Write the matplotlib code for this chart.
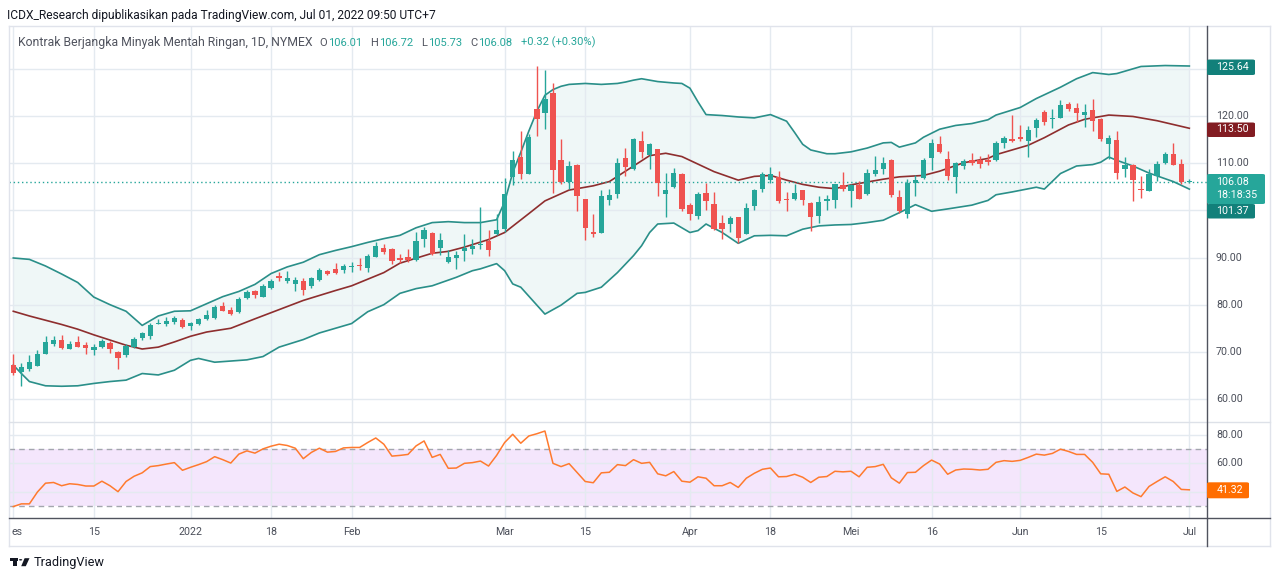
import numpy as np
import matplotlib
matplotlib.use('Agg')
import matplotlib.pyplot as plt
from matplotlib.patches import FancyBboxPatch, Polygon, Circle, Rectangle
from matplotlib.lines import Line2D
from matplotlib.transforms import blended_transform_factory as btf

plt.rcParams['font.family'] = ['Roboto', 'DejaVu Sans']

# ---------------- data (daily bars, 1 Dec 2021 .. 1 Jul 2022) ----------------
opens = [
    67.19, 65.64, 66.35, 66.98, 69.64, 71.75, 72.59, 70.70, 72.17, 71.40,
    70.35, 71.05, 71.96, 69.99, 69.29, 71.05, 73.01, 73.36, 75.89, 75.89,
    76.38, 76.80, 75.54, 75.89, 76.87, 77.16, 79.72, 78.87, 78.37, 81.35,
    82.84, 81.70, 83.55, 86.10, 85.11, 84.40, 85.04, 84.04, 85.25, 87.16,
    87.59, 87.38, 88.01, 88.44, 87.80, 90.21, 92.06, 91.84, 89.93, 90.14,
    89.57, 93.83, 95.18, 92.06, 89.01, 90.00, 91.28, 91.70, 92.55, 93.48,
    95.04, 96.01, 107.08, 111.38, 107.79, 121.40, 120.69, 124.92, 110.68, 106.02,
    109.55, 102.36, 95.44, 95.16, 102.21, 103.41, 111.03, 108.70, 114.63, 111.73,
    112.93, 103.41, 105.04, 107.64, 101.23, 98.83, 103.77, 101.30, 97.28, 97.07,
    98.55, 94.95, 100.95, 104.47, 106.45, 107.15, 102.50, 102.36, 104.39, 101.65,
    98.84, 101.93, 102.14, 105.44, 104.04, 105.30, 103.54, 107.61, 108.67, 110.77,
    102.84, 99.12, 105.72, 106.84, 111.05, 114.07, 110.91, 107.05, 109.30, 110.70,
    110.77, 110.77, 110.77, 114.21, 115.12, 115.54, 114.77, 117.44, 120.95, 119.33,
    119.68, 122.49, 121.65, 120.25, 121.23, 119.33, 114.07, 114.91, 108.81, 109.65,
    104.60, 104.04, 107.26, 110.07, 111.96, 109.86, 106.01]
highs = [
    69.64, 67.54, 69.43, 70.35, 73.29, 73.29, 73.50, 72.24, 73.36, 72.17,
    71.75, 72.80, 72.24, 70.14, 71.75, 73.22, 74.21, 76.17, 77.01, 77.36,
    77.57, 77.15, 76.38, 77.15, 78.77, 79.93, 80.50, 79.43, 81.56, 83.19,
    83.19, 84.40, 85.46, 86.88, 87.16, 85.82, 85.74, 85.96, 87.73, 87.45,
    88.79, 88.65, 89.15, 89.86, 90.78, 93.26, 92.91, 92.00, 90.78, 91.84,
    95.39, 96.45, 95.39, 95.18, 91.49, 91.28, 95.04, 93.97, 100.70, 95.74,
    99.29, 106.94, 112.58, 116.81, 116.11, 130.70, 129.65, 126.90, 115.05, 110.47,
    109.76, 102.50, 99.18, 104.26, 104.61, 111.17, 113.29, 115.40, 116.81, 114.34,
    113.00, 107.86, 108.91, 107.86, 101.65, 103.91, 105.74, 103.98, 98.97, 98.83,
    98.60, 101.51, 104.61, 108.14, 109.27, 108.35, 103.98, 105.53, 104.40, 101.70,
    103.05, 103.19, 105.65, 108.10, 105.65, 106.14, 108.81, 111.47, 111.26, 110.80,
    104.25, 106.70, 107.54, 111.05, 115.12, 115.68, 112.67, 110.21, 110.91, 112.18,
    111.47, 111.96, 114.77, 115.68, 120.18, 118.07, 117.79, 119.68, 121.23, 121.44,
    123.40, 122.98, 122.84, 122.49, 123.68, 119.68, 115.96, 116.88, 111.26, 109.86,
    107.26, 108.81, 110.56, 112.46, 114.28, 110.91, 106.72]
lows = [
    65.08, 62.84, 65.92, 66.98, 69.64, 71.19, 70.56, 70.56, 70.98, 69.64,
    69.43, 70.91, 69.85, 66.35, 68.80, 70.91, 72.45, 72.66, 75.89, 75.47,
    75.96, 75.12, 74.56, 75.75, 76.66, 76.95, 78.58, 77.87, 78.23, 81.21,
    81.49, 81.56, 83.33, 85.11, 84.61, 82.98, 82.13, 83.62, 85.11, 86.31,
    86.52, 86.74, 86.88, 87.45, 87.02, 90.07, 90.78, 88.65, 88.79, 89.15,
    89.22, 92.20, 90.43, 90.57, 88.87, 87.59, 89.36, 90.78, 91.70, 90.28,
    94.82, 95.44, 105.32, 106.73, 107.64, 115.75, 117.17, 103.77, 105.53, 104.47,
    99.89, 93.75, 94.25, 95.16, 101.09, 102.71, 107.29, 108.56, 111.17, 108.70,
    103.06, 98.69, 104.82, 99.89, 97.98, 98.12, 100.03, 95.87, 93.89, 95.44,
    93.05, 94.95, 100.03, 103.91, 105.74, 101.65, 99.96, 102.21, 101.09, 95.61,
    97.23, 100.04, 100.39, 104.04, 100.74, 102.35, 103.19, 107.19, 107.75, 102.84,
    99.33, 98.42, 103.05, 106.56, 108.46, 112.18, 106.35, 103.75, 108.81, 109.65,
    108.95, 109.51, 110.56, 113.16, 114.42, 114.77, 111.40, 115.47, 118.14, 117.37,
    119.47, 121.09, 118.63, 117.72, 116.88, 114.77, 110.91, 106.70, 107.05, 101.93,
    102.63, 104.04, 106.14, 109.86, 109.51, 105.65, 105.73]
closes = [
    65.43, 66.70, 67.75, 69.64, 72.10, 72.59, 70.91, 71.75, 71.12, 70.77,
    70.98, 72.31, 70.70, 68.59, 71.26, 72.80, 73.92, 75.75, 76.17, 76.59,
    77.08, 75.19, 76.17, 77.01, 77.85, 79.57, 78.72, 78.09, 81.21, 82.62,
    82.13, 83.90, 85.11, 85.60, 85.67, 85.32, 83.19, 85.67, 87.45, 86.52,
    86.74, 88.23, 88.23, 88.16, 90.35, 92.48, 91.13, 89.29, 89.50, 89.57,
    93.40, 95.74, 90.64, 93.76, 90.07, 90.43, 91.99, 92.34, 92.91, 91.49,
    95.89, 103.41, 110.61, 107.79, 115.61, 119.28, 123.65, 108.56, 106.02, 109.41,
    103.06, 96.36, 95.02, 103.06, 103.20, 109.97, 109.20, 115.05, 112.37, 113.99,
    105.88, 104.26, 107.86, 100.24, 99.18, 103.41, 102.00, 96.01, 96.01, 98.34,
    94.10, 100.59, 104.26, 107.64, 107.64, 102.00, 102.21, 103.77, 102.14, 98.63,
    101.79, 102.35, 105.51, 104.46, 105.44, 102.49, 107.96, 108.46, 110.07, 103.19,
    99.82, 105.86, 106.35, 110.70, 114.28, 112.46, 107.26, 110.07, 110.56, 110.07,
    109.86, 110.35, 114.28, 115.33, 114.70, 115.12, 117.09, 119.12, 118.63, 119.61,
    122.28, 121.58, 120.74, 120.95, 118.98, 115.12, 115.26, 107.96, 109.65, 106.35,
    104.25, 107.75, 109.86, 111.96, 109.65, 106.00, 106.08]

# Bollinger bands (bar index, value)
bb_upper_idx = [0, 2, 4, 6, 8, 10, 12, 14, 16, 18, 20, 22, 24, 26, 28, 30, 32, 34, 36, 38,
                40, 42, 44, 46, 48, 50, 52, 54, 56, 58, 60, 61, 62, 63, 64, 65, 66, 67, 68, 69,
                71, 73, 75, 76, 77, 78, 80, 82, 83, 84, 85, 86, 88, 90, 92, 94, 96, 97, 98, 99,
                101, 102, 104, 106, 108, 109, 110, 112, 113, 115, 117, 119, 121, 122, 125, 127,
                130, 132, 134, 136, 137, 140, 143, 146]
bb_upper = [89.9, 89.6, 88.2, 86.5, 84.7, 81.6, 80.0, 78.6, 75.6, 77.6, 78.6, 78.7, 80.2, 81.7,
            82.8, 84.3, 86.6, 88.0, 89.0, 90.6, 91.5, 92.3, 93.2, 94.0, 94.7, 96.3, 97.4, 97.6,
            97.4, 97.4, 98.0, 101.8, 108.0, 112.3, 116.8, 121.0, 124.4, 125.6, 126.3, 126.7,
            126.9, 126.7, 126.9, 127.2, 127.6, 127.9, 127.3, 127.0, 126.9, 125.9, 123.0, 120.3,
            120.1, 119.8, 119.6, 120.3, 118.9, 116.5, 114.0, 112.8, 112.0, 112.0, 112.4, 113.2,
            114.3, 114.4, 113.4, 114.3, 115.5, 117.2, 118.0, 118.4, 119.2, 120.2, 121.8, 123.7,
            126.1, 127.9, 129.2, 128.8, 129.0, 130.5, 130.7, 130.6]
bb_mid_idx = [0, 2, 4, 6, 8, 10, 12, 14, 16, 18, 20, 22, 24, 27, 30, 32, 36, 40, 42, 44,
              46, 48, 52, 54, 56, 59, 61, 64, 66, 69, 72, 74, 77, 79, 81, 83, 84, 87, 90, 92,
              94, 96, 98, 100, 102, 104, 108, 110, 113, 115, 118, 121, 122, 126, 128, 131, 133,
              135, 136, 139, 142, 146]
bb_mid = [78.6, 77.6, 76.7, 75.8, 74.8, 73.6, 72.5, 71.4, 70.6, 71.0, 72.1, 73.3, 74.2, 75.0,
          77.0, 78.3, 80.9, 83.0, 84.0, 85.4, 86.8, 88.8, 90.9, 91.3, 92.2, 93.8, 95.3, 99.3,
          102.0, 104.3, 105.2, 106.1, 109.4, 111.6, 112.1, 111.4, 110.6, 108.2, 106.4, 107.2,
          107.4, 106.4, 105.5, 104.9, 104.6, 105.4, 106.6, 107.1, 107.4, 108.3, 110.1, 111.0,
          111.8, 113.8, 115.4, 118.1, 119.3, 119.9, 120.2, 119.9, 119.0, 117.4]
bb_lower_idx = [0, 1, 2, 4, 6, 8, 10, 12, 14, 16, 18, 20, 22, 23, 25, 29, 31, 33, 36, 38,
                40, 42, 44, 46, 48, 50, 52, 55, 57, 58, 60, 61, 62, 63, 66, 68, 70, 71, 73, 75,
                77, 78, 79, 80, 82, 84, 85, 86, 88, 90, 92, 94, 96, 98, 100, 102, 104, 106, 108,
                110, 112, 114, 116, 119, 121, 122, 124, 127, 128, 130, 132, 134, 135, 136, 137,
                139, 141, 142, 144, 146]
bb_lower = [67.2, 65.4, 63.7, 62.8, 62.7, 62.8, 63.3, 63.7, 64.0, 65.4, 65.1, 66.1, 68.2, 68.6,
            67.8, 68.3, 69.0, 71.0, 72.6, 74.0, 75.0, 76.0, 78.5, 80.0, 82.4, 83.4, 84.0, 85.8,
            87.2, 87.6, 88.7, 87.2, 84.4, 83.7, 78.0, 79.9, 82.4, 82.6, 83.7, 86.8, 90.4, 92.5,
            95.3, 97.1, 97.3, 95.3, 95.7, 97.1, 95.3, 93.0, 94.6, 94.7, 94.6, 96.0, 96.7, 96.9,
            97.0, 97.4, 97.9, 99.5, 101.2, 99.8, 100.3, 101.1, 102.1, 103.3, 103.9, 104.9, 104.5,
            107.8, 109.4, 109.7, 110.2, 111.3, 110.6, 109.4, 107.9, 107.3, 106.1, 104.5]

rsi = [
    29.5, 31.4, 31.4, 39.8, 46.0, 46.5, 44.2, 45.6, 45.1, 44.0,
    44.0, 47.4, 44.2, 40.0, 47.2, 50.9, 53.3, 57.7, 58.4, 59.5,
    60.5, 55.1, 57.2, 59.1, 61.2, 64.7, 62.6, 60.2, 66.5, 68.8,
    67.2, 70.2, 72.1, 73.5, 72.6, 70.7, 63.3, 67.7, 70.7, 67.9,
    68.4, 70.9, 71.2, 71.2, 74.7, 77.9, 73.5, 65.1, 65.6, 66.3,
    72.3, 75.8, 64.2, 66.3, 56.5, 56.7, 60.0, 60.5, 61.6, 58.1,
    65.6, 74.7, 80.5, 74.2, 79.3, 80.9, 82.8, 60.0, 57.7, 59.8,
    53.5, 47.2, 46.3, 53.3, 53.7, 59.1, 58.4, 62.6, 60.0, 60.7,
    52.6, 51.2, 54.2, 47.4, 46.7, 50.5, 49.5, 44.2, 44.2, 46.5,
    43.0, 49.5, 53.0, 55.8, 56.7, 50.5, 50.7, 52.3, 50.2, 46.5,
    50.2, 50.7, 54.4, 54.0, 54.4, 50.5, 57.2, 57.7, 59.3, 49.8,
    46.0, 53.5, 53.7, 58.4, 62.3, 59.5, 52.3, 55.3, 56.0, 55.8,
    55.3, 55.8, 60.7, 61.9, 61.4, 62.1, 64.2, 66.5, 65.8, 67.0,
    70.0, 68.4, 66.3, 66.3, 60.7, 52.6, 52.3, 40.2, 43.3, 39.1,
    36.5, 43.7, 47.2, 50.5, 47.2, 41.6, 41.32]

tick_idx = [10, 22, 32, 42, 61, 71, 84, 94, 104, 114, 125, 135, 146]
tick_lbl = ['15', '2022', '18', 'Feb', 'Mar', '15', 'Apr', '18', 'Mei', '16', 'Jun', '15', 'Jul']
price_ticks = [120, 110, 90, 80, 70, 60]
grid_prices = [60, 70, 80, 90, 100, 110, 120, 130]
rsi_ticks = [80, 60]
last_labels = {'upper': '125.64', 'mid': '113.50', 'close': '106.08', 'timer': '18:18:35',
               'lower': '101.37', 'rsi': '41.32'}
ohlc_legend = [('O', '106.01'), ('H', '106.72'), ('L', '105.73'), ('C', '106.08'),
               ('', '+0.32 (+0.30%)')]

# ---------------- layout ----------------
W, H = 1280, 581
fig = plt.figure(figsize=(W / 100, H / 100), dpi=100)
fig.patch.set_facecolor('white')
renderer = fig.canvas.get_renderer()


def fx(x):
    return x / W


def fy(y):
    return 1 - y / H


def rect(x0, y0, x1, y1):
    return [fx(x0), fy(y1), (x1 - x0) / W, (y1 - y0) / H]


def textwidth(s, fs):
    if not s:
        return 0.0
    t = fig.text(0, 0, s, fontsize=fs)
    w = t.get_window_extent(renderer=renderer).width
    t.remove()
    return w


def fitsize(s, width):
    return 10 * width / textwidth(s, 10)


def fline(x0, y0, x1, y1, color, lw=1.0, z=5):
    fig.add_artist(Line2D([fx(x0), fx(x1)], [fy(y0), fy(y1)], transform=fig.transFigure,
                          color=color, lw=lw, zorder=z))


X0, X1 = 9.3, 1206.7
Y0, YS, Y1 = 26.0, 421.7, 518.3
bar_px0, bar_dx = 13.3, 8.055
ppd = 4.7167   # pixels per dollar
rpu = 1.417    # pixels per RSI unit

ax = fig.add_axes(rect(X0, Y0, X1, YS))
ax2 = fig.add_axes(rect(X0, YS, X1, Y1))
xl = ((X0 - bar_px0) / bar_dx, (X1 - bar_px0) / bar_dx)
ax.set_ylim(120 - (YS - 116) / ppd, 120 + (116 - Y0) / ppd)
ax2.set_ylim(80 - (Y1 - 435) / rpu, 80 + (435 - YS) / rpu)
for a in (ax, ax2):
    a.set_xlim(*xl)
    a.axis('off')

GRID = '#e4eaf0'
UP, DN = '#26a69a', '#ef5350'
BAND = '#2a8f89'
MID = '#8e2e2e'

# grid
for p in grid_prices:
    ax.axhline(p, color=GRID, lw=1, zorder=0.5)
for i in [0] + tick_idx:
    ax.axvline(i, color=GRID, lw=1, zorder=0.5)
    ax2.axvline(i, color=GRID, lw=1, zorder=0.6)

# Bollinger fill & lines
ux, uv = np.array(bb_upper_idx), np.array(bb_upper)
lx, lv = np.array(bb_lower_idx), np.array(bb_lower)
ax.fill(np.r_[ux, lx[::-1]], np.r_[uv, lv[::-1]], color='#eff7f7', lw=0, zorder=0.4)
ax.plot(ux, uv, color=BAND, lw=1.2, zorder=2)
ax.plot(lx, lv, color=BAND, lw=1.2, zorder=2)
ax.plot(bb_mid_idx, bb_mid, color=MID, lw=1.2, zorder=2)

# price line
ax.axhline(closes[-1], color=UP, lw=1, ls=(0, (1, 2)), zorder=2.5)

# candles
O, Hh, L, C = map(np.array, (opens, highs, lows, closes))
x = np.arange(len(O))
cols = np.where(C >= O, UP, DN)
ax.vlines(x, L, Hh, colors=cols, lw=1.0, zorder=3)
bot = np.minimum(O, C)
hgt = np.maximum(np.abs(C - O), 0.25)
ax.bar(x, hgt, bottom=bot, width=0.66, color=cols, lw=0, zorder=4)

# RSI pane
ax2.axhspan(30, 70, color='#f4e6fc', lw=0, zorder=0.3)
for r in (80, 60, 40):
    ax2.axhline(r, color=GRID, lw=1, zorder=0.6)
for r in (70, 30):
    ax2.axhline(r, color='#a3a6ae', lw=1, ls=(0, (4, 3)), zorder=1)
ax2.plot(x, rsi, color='#ff7a2e', lw=1.1, zorder=3)

# frame lines
FR = '#e0e3eb'
fline(X0, Y0, 1270, Y0, FR)
fline(X0, 545.5, 1270, 545.5, FR)
fline(X0, Y0, X0, 545.5, FR)
fline(1270, Y0, 1270, 545.5, FR)
fline(X0, YS, 1270, YS, '#dde1e8')
fline(X0, Y1, 1270, Y1, '#50535e')
fline(X1, Y0, X1, 545.5, '#50535e')

# ---------------- texts ----------------
TXT = '#131722'
AX_TXT = '#4a4e59'
LEG_GREY = '#50535e'
hdr = 'ICDX_Research dipublikasikan pada TradingView.com, Jul 01, 2022 09:50 UTC+7'
fs_hdr = fitsize(hdr, 431.5)
fig.text(fx(7.3), fy(15.5), hdr, fontsize=fs_hdr, color=TXT, va='center', ha='left')

name = 'Kontrak Berjangka Minyak Mentah Ringan, 1D, NYMEX'
fs_leg = fitsize(name, 295)
LEG_Y = 42.7
fig.text(fx(18.4), fy(LEG_Y), name, fontsize=fs_leg, color=LEG_GREY, va='center')
# OHLC groups laid out from x=319.6 to x=595 with equal gaps
fs_v = 0.5 * (fs_leg + fitsize('106.01', 30.3))
widths = [textwidth(l, fs_v) + (0.8 if l else 0) + textwidth(v, fs_v) for l, v in ohlc_legend]
gap = (595.0 - 319.6 - sum(widths)) / (len(widths) - 1)
xs = 319.6
for (letter, val), w in zip(ohlc_legend, widths):
    if letter:
        fig.text(fx(xs), fy(LEG_Y), letter, fontsize=fs_v, color=LEG_GREY, va='center')
    xv = xs + (textwidth(letter, fs_v) + 0.8 if letter else 0)
    fig.text(fx(xv), fy(LEG_Y), val, fontsize=fs_v, color=UP, va='center')
    xs += w + gap

fs_ax = fitsize('120.00', 32.6)
tr_p = btf(fig.transFigure, ax.transData)
for p in price_ticks:
    ax.text(fx(1216), p, f'{p:.2f}', transform=tr_p, fontsize=fs_ax, color=AX_TXT,
            va='center', ha='left', clip_on=False)
tr_r = btf(fig.transFigure, ax2.transData)
for r in rsi_ticks:
    ax2.text(fx(1216), r, f'{r:.2f}', transform=tr_r, fontsize=fs_ax, color=AX_TXT,
             va='center', ha='left', clip_on=False)

# x tick labels
tr_x = btf(ax2.transData, fig.transFigure)
for i, s in zip(tick_idx, tick_lbl):
    ax2.text(i, fy(532), s, transform=tr_x, fontsize=fs_ax, color=AX_TXT,
             ha='center', va='center', clip_on=False)
fig.text(fx(11), fy(532), 'es', fontsize=fs_ax, color=AX_TXT, ha='left', va='center')


# last-value boxes on the price scale
def box(x0, y0, x1, y1, color, lines):
    p = FancyBboxPatch((fx(x0), fy(y1)), (x1 - x0) / W, (y1 - y0) / H,
                       boxstyle='round,pad=0,rounding_size=0.002', transform=fig.transFigure,
                       facecolor=color, edgecolor='none', zorder=10)
    fig.add_artist(p)
    for (ty, s) in lines:
        fig.text(fx(1216.5), fy(ty), s, fontsize=fs_ax, color='white', va='center',
                 ha='left', zorder=11)


box(1207, 59.5, 1255, 75.0, '#12807a', [(67.2, last_labels['upper'])])
box(1207, 122.5, 1255, 137.0, '#821c22', [(129.5, last_labels['mid'])])
box(1207, 174.0, 1265, 204.0, '#26a69a', [(182.3, last_labels['close']),
                                          (195.5, last_labels['timer'])])
box(1207, 204.0, 1255, 218.5, '#12807a', [(211.0, last_labels['lower'])])
box(1207, 482.3, 1249, 498.3, '#ff6d00', [(490.3, last_labels['rsi'])])

# footer logo
LOGO = '#131722'
fig.add_artist(Rectangle((fx(10), fy(561.2)), 8.2 / W, 3.0 / H, transform=fig.transFigure,
                         facecolor=LOGO, edgecolor='none'))
fig.add_artist(Rectangle((fx(13.3), fy(566.2)), 3.2 / W, 6.0 / H, transform=fig.transFigure,
                         facecolor=LOGO, edgecolor='none'))
fig.add_artist(Circle((fx(20.6), fy(559.8)), 1.6 / W, transform=fig.transFigure,
                      facecolor=LOGO, edgecolor='none'))
fig.add_artist(Polygon([(fx(24.6), fy(558.2)), (fx(29.5), fy(558.2)), (fx(25.8), fy(566.2)),
                        (fx(21.2), fy(566.2))], closed=True, transform=fig.transFigure,
                       facecolor=LOGO, edgecolor='none'))
fs_tv = fitsize('TradingView', 71)
fig.text(fx(33.3), fy(562.5), 'TradingView', fontsize=fs_tv, color=LOGO, va='center', ha='left')

fig.savefig('out.png', dpi=100, facecolor='white')
